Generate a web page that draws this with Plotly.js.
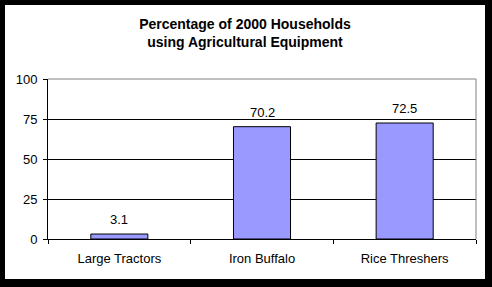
<!DOCTYPE html>
<html><head><meta charset="utf-8">
<script src="https://cdn.plot.ly/plotly-3.0.1.min.js"></script>
<style>
html,body{margin:0;padding:0;background:#000;width:492px;height:287px;overflow:hidden}
#chart{position:absolute;left:5px;top:5px;width:480px;height:274px;background:#fff}
</style></head>
<body><div id="chart"></div>
<script>
const categories = ["Large Tractors", "Iron Buffalo", "Rice Threshers"];
const values = [3.1, 70.2, 72.5];
const labels = ["3.1", "70.2", "72.5"];
const yTicks = [0, 25, 50, 75, 100];

const font = "Arial, 'Liberation Sans', sans-serif";
const trace = {
  type: "bar", x: categories, y: values,
  marker: {color: "#9999FF", line: {color: "#000", width: 1}},
  width: 0.4, hoverinfo: "none"
};
const annotations = categories.map((c, i) => ({
  x: c, y: values[i], xref: "x", yref: "y", text: labels[i], showarrow: false,
  yanchor: "bottom", yshift: 5, font: {family: font, size: 13, color: "#000"}
}));
const layout = {
  width: 480, height: 274,
  margin: {l: 43, r: 9, t: 74, b: 40},
  paper_bgcolor: "#fff", plot_bgcolor: "#fff",
  showlegend: false,
  title: {text: "<b>Percentage of 2000 Households<br>using Agricultural Equipment</b>",
    font: {family: font, size: 14, color: "#000"}, x: 0.5, xanchor: "center", xref: "container",
    y: 1 - 24/274, yanchor: "top", yref: "container"},
  xaxis: {type: "category", tickson: "boundaries", ticks: "outside", ticklen: 4,
    tickcolor: "#000", showline: true, linecolor: "#000", linewidth: 1, ticklabelstandoff: 7,
    tickfont: {family: font, size: 13, color: "#000"}, showgrid: false, fixedrange: true},
  yaxis: {range: [0, 100], tickvals: yTicks, ticktext: yTicks.map(String),
    ticks: "outside", ticklen: 4, tickcolor: "#000", showline: true, linecolor: "#000",
    linewidth: 1, showgrid: true, gridcolor: "#000", gridwidth: 1, zeroline: false,
    ticklabelstandoff: 3,
    tickfont: {family: font, size: 13, color: "#000"}, fixedrange: true},
  annotations: annotations,
  shapes: [
    {type: "line", xref: "paper", yref: "paper", x0: 0, x1: 1, y0: 1, y1: 1,
     line: {color: "#808080", width: 1}, layer: "above"},
    {type: "line", xref: "paper", yref: "paper", x0: 1, x1: 1, y0: 0, y1: 1,
     line: {color: "#808080", width: 1}, layer: "above"}
  ]
};
Plotly.newPlot("chart", [trace], layout, {displayModeBar: false, staticPlot: true});
</script></body></html>
